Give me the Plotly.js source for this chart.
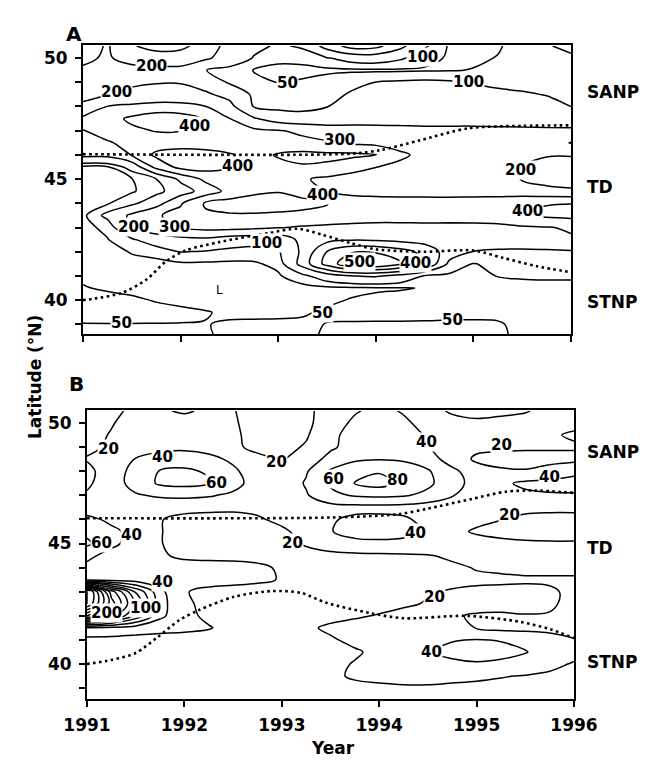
<!DOCTYPE html>
<html><head><meta charset="utf-8">
<script src="https://cdn.plot.ly/plotly-3.0.1.min.js"></script>
<style>html,body{margin:0;padding:0;background:#fff}#chart{width:651px;height:769px}</style>
</head><body><div id="chart"></div>
<script>
// ---- grid axes ----
const years = [1991,1991.25,1991.5,1991.75,1992,1992.25,1992.5,1992.75,1993,1993.25,1993.5,1993.75,1994,1994.25,1994.5,1994.75,1995,1995.25,1995.5,1995.75,1996];
const lats = [38.5,39,39.5,40,40.5,41,41.5,42,42.5,43,43.5,44,44.5,45,45.5,46,46.5,47,47.5,48,48.5,49,49.5,50,50.5];

// ---- Panel A field (rows = latitude, cols = year) ----
const zA = [
[40,40,40,40,42,45,58,62,62,58,45,40,38,38,38,40,42,46,55,60,62],
[49,49,49,49,49,49,53,56,57,56,49,47,46,46,46,46,47,48,55,58,60],
[60,62,62,60,57,52,45,42,42,46,55,60,62,62,60,57,55,55,58,60,62],
[62,60,55,48,42,38,35,35,35,38,44,52,58,62,65,65,62,60,60,62,62],
[52,46,42,36,34,33,32,32,33,35,38,42,45,47,52,60,70,75,78,80,80],
[45,40,38,37,37,37,37,38,45,80,150,198,210,170,95,80,85,102,108,110,110],
[38,38,42,42,42,42,42,45,60,240,440,580,590,520,410,180,95,130,150,150,150],
[38,40,52,60,102,95,80,70,90,220,402,490,490,440,370,250,198,190,185,185,190],
[38,48,90,150,170,180,150,140,130,230,270,290,285,270,255,245,240,240,250,270,290],
[38,60,198,260,310,330,330,320,305,290,280,275,270,270,270,265,262,265,285,295,310],
[38,120,220,290,330,385,390,390,385,375,370,350,345,345,350,355,365,380,405,420,430],
[38,45,80,160,290,410,440,445,440,430,405,360,350,345,345,345,350,360,385,395,398],
[36,38,45,75,150,240,330,380,395,360,298,268,262,260,258,256,254,250,240,225,215],
[38,42,48,98,220,320,340,360,350,310,280,260,250,245,240,235,225,212,198,170,160],
[40,45,130,330,430,440,410,360,370,390,385,340,302,275,265,258,250,230,195,175,165],
[230,230,305,420,460,450,410,360,410,430,420,420,410,320,270,260,255,240,225,205,205],
[260,290,330,350,340,330,340,350,330,320,310,285,270,255,250,250,250,245,240,250,305],
[298,340,380,405,402,370,340,320,305,285,250,235,225,218,215,215,215,215,215,215,215],
[320,360,420,460,450,390,302,210,150,130,140,160,170,175,175,175,175,170,165,160,155],
[210,302,320,335,330,302,230,95,80,80,98,130,150,160,160,155,150,140,130,115,99],
[185,198,215,230,230,215,170,85,70,70,85,105,120,125,125,120,115,110,105,98,92],
[175,180,190,196,196,160,90,60,49,55,70,88,101,108,112,108,98,90,85,82,80],
[190,175,170,175,180,102,75,48,40,38,40,42,42,43,45,47,52,60,68,72,78],
[215,190,235,245,240,215,160,95,60,65,95,130,140,110,65,45,42,52,70,80,90],
[250,190,290,340,330,250,170,120,90,110,240,340,330,230,110,45,42,45,70,95,115]
];

// ---- Panel B field ----
const zB = [
[10,10,10,10,10,10,10,10,10,10,11,12,13,13,13,13,12,12,11,11,11],
[11,11,11,11,11,11,11,11,11,11,13,16,17,18,18,17,16,15,14,13,13],
[11,11,11,11,11,11,11,11,11,12,17,22,24,25,25,24,23,21,19,16,14],
[12,12,12,12,11,11,11,11,11,12,16,21,25,28,30,36,38,36,32,26,18],
[13,13,12,12,12,12,12,12,12,13,15,18,24,30,39,45,48,46,41,32,27],
[14,14,13,13,13,13,12,12,13,14,18,24,30,35,38,39,41,39,35,28,21],
[38,35,30,26,24,21,15,13,14,17,23,26,30,32,32,28,19,15,14,14,14],
[200,150,95,45,24,17,15,13,12,13,15,18,21,24,25,22,18,17,19,19,15],
[280,190,115,48,22,17,15,13,12,12,12,13,15,18,21,25,27,27,26,22,16],
[290,170,98,45,21,16,14,13,12,11,11,12,14,17,19,21,23,24,24,22,17],
[32,30,29,28,25,26,25,23,19,13,12,12,13,14,16,17,17,17,18,18,18],
[36,32,30,28,26,27,26,23,18,14,13,13,13,14,15,17,21,23,24,24,24],
[44,34,28,22,17,15,15,15,14,14,15,16,17,18,19,23,25,25,25,25,25],
[64,44,33,21,12,10,10,11,14,22,30,34,35,34,32,29,26,24,23,22,22],
[55,44,34,21,12,10,10,12,17,26,39,48,50,47,38,24,18,15,12,12,12],
[45,36,28,21,14,12,12,18,24,28,38,44,45,43,34,28,24,20.5,16,15,15],
[30,29,28,27,27,26,25,24,24,28,33,34,34,33,30,28,26,25,25,24,24],
[22,28,38,43,44,42,36,28,26,38,55,62,64,62,55,41,32,33,36,38,38],
[17,30,48,63,66,62,48,30,26,42,63,80.5,88,74,64,48,32,36,44,46,47],
[16,28,48,61,63,58,44,28,23,38,62,72,78,72,62,45,28,22,21,26,35],
[21,26,41,50,52,46,36,24,19,26,48,57,59,57,50,30,17,15,15,15,15],
[17,22,28,33,35,32,23,16,14,22,36,50,56,50,41,30,24,23,22,22,22],
[15,21,27,30,31,29,23,14,12,18,35,48,54,48,38,28,26,26,25,22,18],
[14,19,26,28,27,27,22,13,11,16,30,44,50,44,32,25,23,24,25,24,24],
[12,16,24,22,18,23,21,12,10,15,30,38,46,38,25,18,15,17,19,24,30]
];

// ---- frontal boundaries (dotted) ----
const frontUpperAYear = [1991.0,1993.75,1994.05,1994.45,1994.95,1995.5,1996.0];
const frontUpperALat  = [46.03,46.05,46.2,46.6,47.1,47.2,47.22];
const frontLowerAYear = [1991.0,1991.1,1991.4,1991.65,1991.85,1992.05,1992.4,1992.9,1993.2,1993.45,1993.75,1994.0,1994.5,1995.0,1995.3,1995.65,1996.0];
const frontLowerALat  = [40.0,40.05,40.3,40.85,41.6,42.05,42.4,42.77,42.95,42.7,42.35,42.1,42.0,42.05,41.75,41.4,41.15];
const frontUpperBYear = [1991.0,1993.5,1994.2,1994.5,1994.95,1995.3,1995.6,1996.0];
const frontUpperBLat  = [46.05,46.08,46.22,46.45,46.85,47.15,47.2,47.1];
const frontLowerBYear = [1991.0,1991.25,1991.5,1991.72,1991.95,1992.15,1992.5,1992.9,1993.2,1993.45,1993.9,1994.25,1994.9,1995.45,1995.75,1996.0];
const frontLowerBLat  = [40.0,40.17,40.46,41.1,41.83,42.24,42.78,43.03,42.95,42.55,42.12,41.9,42.0,41.75,41.45,41.08];

// ---- contour labels ----
const labelAYear = [1991.70,1991.34,1992.14,1993.1,1994.48,1994.95,1993.63,1992.58,1993.45,1995.48,1995.55,1991.52,1991.94,1992.88,1993.83,1994.41,1991.39,1993.45,1994.79];
const labelALat  = [49.67,48.6,47.19,48.97,50.04,49.0,46.61,45.54,44.34,45.37,43.68,43.02,43.02,42.36,41.57,41.53,39.05,39.46,39.17];
const labelAText = ['200','200','400','50','100','100','300','400','400','200','400','200','300','100','500','400','50','50','50'];
const labelBYear = [1991.22,1991.78,1992.33,1992.95,1994.49,1993.53,1994.19,1995.26,1995.75,1995.34,1994.37,1991.15,1991.46,1993.11,1991.78,1991.2,1991.6,1994.57,1994.54];
const labelBLat  = [48.92,48.59,47.51,48.38,49.21,47.68,47.63,49.09,47.76,46.18,45.44,45.02,45.35,45.02,43.42,42.12,42.32,42.78,40.5];
const labelBText = ['20','40','60','20','40','60','80','20','40','20','40','60','40','20','40','200','100','20','40'];

// ---- region names ----
const regionNames = ['SANP','TD','STNP'];
const regionLatA = [48.6,44.67,39.92];
const regionLatB = [48.8,44.8,40.08];

const yearTicks = [1991,1992,1993,1994,1995,1996];
const latTicks = [39,40,41,42,43,44,45,46,47,48,49,50];
const latTickText = latTicks.map(v => (v % 5 === 0 ? String(v) : ''));

const FONT = 'DejaVu Sans, Liberation Sans, Arial, sans-serif';
const lineStyle = {color:'black', width:1.5, smoothing:1.0};

function contourTrace(z, xa, ya, start, end, size){
  return {type:'contour', x:years, y:lats, z:z, xaxis:xa, yaxis:ya,
    autocontour:false, contours:{coloring:'none', start:start, end:end, size:size, showlabels:false},
    line:lineStyle, showscale:false, hoverinfo:'skip'};
}
function frontTrace(xs, ys, xa, ya){
  return {type:'scatter', mode:'lines', x:xs, y:ys, xaxis:xa, yaxis:ya,
    line:{color:'black', width:2.6, dash:'2.6px,3.4px', shape:'spline', smoothing:0.8},
    hoverinfo:'skip', showlegend:false};
}

const data = [
  contourTrace(zA,'x','y',50,50,100),
  contourTrace(zA,'x','y',100,600,100),
  contourTrace(zB,'x2','y2',20,300,20),
  frontTrace(frontUpperAYear, frontUpperALat,'x','y'),
  frontTrace(frontLowerAYear, frontLowerALat,'x','y'),
  frontTrace(frontUpperBYear, frontUpperBLat,'x2','y2'),
  frontTrace(frontLowerBYear, frontLowerBLat,'x2','y2')
];

const tickFont = {family:FONT, size:17, color:'black', weight:'bold'};
const axisCommon = {showline:true, linewidth:2, linecolor:'black', mirror:true, showgrid:false, zeroline:false,
  ticks:'outside', ticklen:6, tickwidth:2, tickcolor:'black', tickfont:tickFont, fixedrange:true};

const ann = [];
const labFont = {family:FONT, size:15, color:'black', weight:'bold'};
labelAText.forEach((t,i)=>ann.push({xref:'x', yref:'y', x:labelAYear[i], y:labelALat[i], text:t, showarrow:false,
  font:labFont, bgcolor:'white', borderpad:0}));
labelBText.forEach((t,i)=>ann.push({xref:'x2', yref:'y2', x:labelBYear[i], y:labelBLat[i], text:t, showarrow:false,
  font:labFont, bgcolor:'white', borderpad:0}));
ann.push({xref:'x', yref:'y', x:1992.4, y:40.4, text:'L', showarrow:false, font:{family:FONT, size:12, color:'black'}});
const regFont = {family:FONT, size:17, color:'black', weight:'bold'};
regionNames.forEach((n,i)=>{
  ann.push({xref:'paper', yref:'y', x:585/651, xanchor:'left', y:regionLatA[i], text:n, showarrow:false, font:regFont});
  ann.push({xref:'paper', yref:'y2', x:585/651, xanchor:'left', y:regionLatB[i], text:n, showarrow:false, font:regFont});
});
ann.push({xref:'paper', yref:'paper', x:64/651, y:1-20/769, text:'A', showarrow:false, font:{family:FONT, size:20, color:'black', weight:'bold'}});
ann.push({xref:'paper', yref:'paper', x:67/651, y:1-384/769, text:'B', showarrow:false, font:{family:FONT, size:20, color:'black', weight:'bold'}});
ann.push({xref:'paper', yref:'paper', x:23/651, y:1-377/769, text:'Latitude (°N)', textangle:-90, showarrow:false, font:{family:FONT, size:17, color:'black', weight:'bold'}});
ann.push({xref:'paper', yref:'paper', x:333/651, y:1-760/769, text:'Year', showarrow:false, font:{family:FONT, size:17, color:'black', weight:'bold'}});

const layout = {
  width:651, height:769, margin:{l:0,r:0,t:0,b:0}, paper_bgcolor:'white', plot_bgcolor:'white',
  showlegend:false, autosize:false,
  xaxis: Object.assign({}, axisCommon, {domain:[83/651,571/651], range:[1991,1996], anchor:'y', tickvals:yearTicks, showticklabels:false}),
  yaxis: Object.assign({}, axisCommon, {domain:[1-334/769,1-45/769], range:[38.6,50.54], anchor:'x', tickvals:latTicks, ticktext:latTickText, ticklabelstandoff:4}),
  xaxis2: Object.assign({}, axisCommon, {domain:[87/651,574/651], range:[1991,1996], anchor:'y2', tickvals:yearTicks, ticktext:yearTicks.map(String), ticklabelstandoff:4}),
  yaxis2: Object.assign({}, axisCommon, {domain:[1-699/769,1-410/769], range:[38.55,50.54], anchor:'x2', tickvals:latTicks, ticktext:latTickText, ticklabelstandoff:4}),
  annotations: ann
};

Plotly.newPlot('chart', data, layout, {staticPlot:true, displayModeBar:false});
</script>
</body></html>
